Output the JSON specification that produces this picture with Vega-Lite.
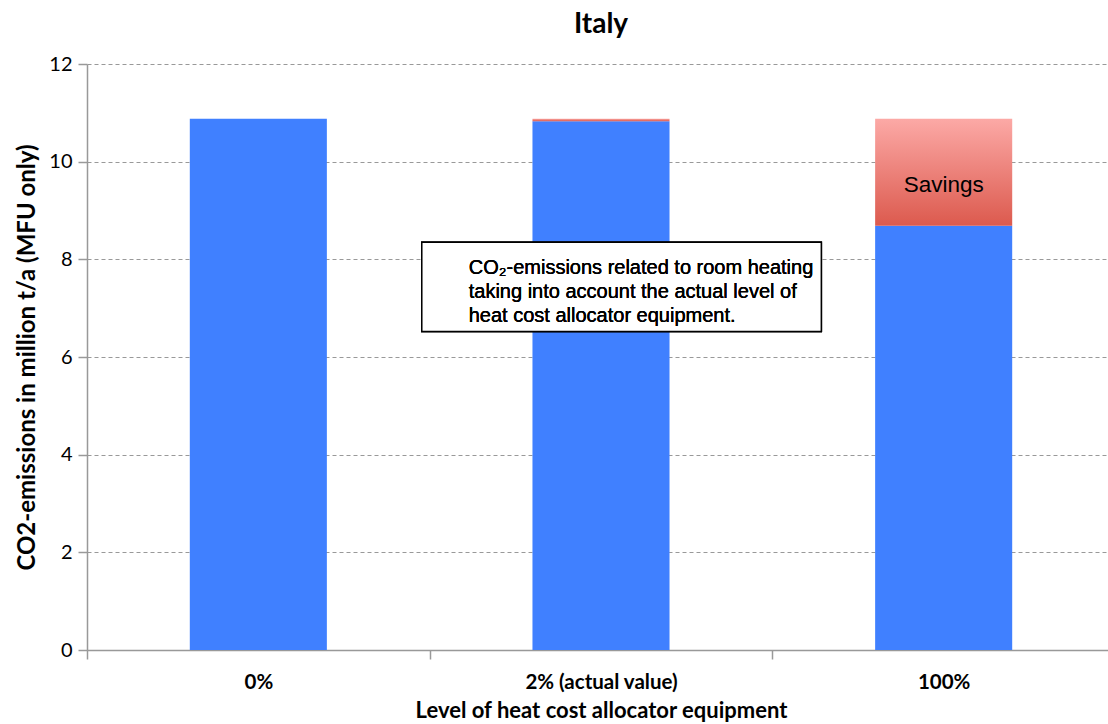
{
  "$schema": "https://vega.github.io/schema/vega-lite/v6.json",
  "autosize": "none",
  "width": 1028,
  "height": 586,
  "padding": {"left": 87, "top": 64, "right": 0, "bottom": 74},
  "background": "white",
  "title": {"text": "Italy", "font": "Lato", "fontSize": 28, "fontWeight": "bold", "color": "#000", "offset": 15, "anchor": "middle"},
  "config": {
    "view": {"stroke": null},
    "axis": {"labelFont": "Lato", "titleFont": "Lato", "labelColor": "#000", "titleColor": "#000", "domainColor": "#999", "tickColor": "#999", "domainWidth": 1.5, "tickWidth": 1.5}
  },
  "data": {"values": [
    {"level": "0%", "emissions": 10.88, "total": 10.88},
    {"level": "2% (actual value)", "emissions": 10.83, "total": 10.88},
    {"level": "100%", "emissions": 8.69, "total": 10.88}
  ]},
  "resolve": {"scale": {"x": "independent"}, "axis": {"x": "independent"}},
  "layer": [
    {
      "encoding": {
        "x": {"field": "level", "type": "nominal", "sort": null,
          "scale": {"paddingInner": 0, "paddingOuter": 0},
          "axis": {"title": "Level of heat cost allocator equipment", "labelAngle": 0, "labelFontSize": 20.5, "labelFontWeight": "bold", "titleFontSize": 22, "titleFontWeight": "bold", "tickBand": "extent", "tickSize": 9, "labelPadding": 13, "titlePadding": 8}
        }
      },
      "layer": [
        {
          "mark": {"type": "bar", "color": "#4080FF", "width": {"band": 0.4}},
          "encoding": {
            "y": {"field": "emissions", "type": "quantitative",
              "scale": {"domain": [0, 12]},
              "axis": {"title": "CO2-emissions in million t/a (MFU only)", "values": [0, 2, 4, 6, 8, 10, 12], "labelFontSize": 20, "titleFontSize": 24, "titleFontWeight": "bold", "tickSize": 9, "labelPadding": 6, "titlePadding": 9, "grid": true, "gridColor": "#999", "gridDash": [4, 3], "gridWidth": 1}
            }
          }
        },
        {
          "mark": {"type": "bar", "width": {"band": 0.4}, "color": {"gradient": "linear", "x1": 0, "y1": 0, "x2": 0, "y2": 1, "stops": [{"offset": 0, "color": "#FCA9A6"}, {"offset": 1, "color": "#DC5A4E"}]}},
          "encoding": {
            "y": {"field": "total", "type": "quantitative"},
            "y2": {"field": "emissions"}
          }
        },
        {
          "transform": [{"filter": "datum.level === '100%'"}],
          "mark": {"type": "text", "text": "Savings", "font": "Liberation Sans", "fontSize": 22.5, "color": "#000", "baseline": "middle", "align": "center"},
          "encoding": {
            "y": {"datum": 9.52, "type": "quantitative"}
          }
        }
      ]
    },
    {
      "layer": [
        {
          "mark": {"type": "rect", "fill": "white", "stroke": "#000", "strokeWidth": 1.5},
          "encoding": {
            "x": {"datum": 0.977, "type": "quantitative", "scale": {"domain": [0, 3]}, "axis": null},
            "x2": {"datum": 2.143},
            "y": {"datum": 8.35, "type": "quantitative"},
            "y2": {"datum": 6.52}
          }
        },
        {
          "mark": {"type": "text", "text": ["CO₂-emissions related to room heating", "taking into account the actual level of", "heat cost allocator equipment."], "font": "Liberation Sans", "fontSize": 20, "lineHeight": 24, "align": "left", "baseline": "middle", "color": "#000"},
          "encoding": {
            "x": {"datum": 1.114, "type": "quantitative", "scale": {"domain": [0, 3]}, "axis": null},
            "y": {"datum": 7.83, "type": "quantitative"}
          }
        }
      ]
    }
  ]
}
